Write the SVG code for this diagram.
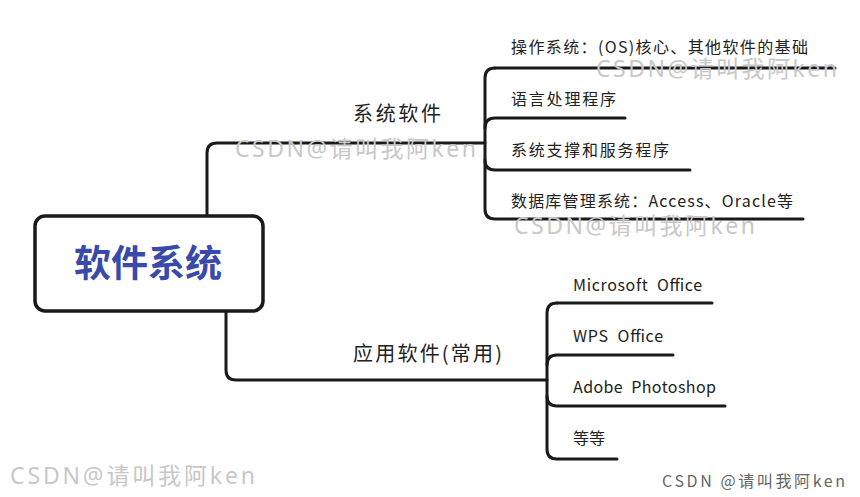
<svg xmlns="http://www.w3.org/2000/svg" width="860" height="497" viewBox="0 0 860 497">
<style>
.ln{fill:none;stroke:#1a1a1a;stroke-width:3;stroke-linecap:round;stroke-linejoin:round}
.t{font-family:"Noto Sans CJK SC","Noto Sans",sans-serif;fill:#222}
.c{font-size:16px}
.b{font-size:20px}
.wm{font-family:"Noto Sans","Noto Sans CJK SC",sans-serif;font-size:23px;fill:#c8c8c8}
</style>
<rect width="860" height="497" fill="#fff"/>
<g id="connectors">
<path class="ln" d="M207 216 V153 Q207 143 217 143 H485"/>
<path class="ln" d="M495 68 Q485 68 485 78 V209 Q485 219 495 219 H803"/>
<path class="ln" d="M495 68 H835"/>
<path class="ln" d="M485 128 Q485 118 495 118 H625"/>
<path class="ln" d="M485 160 Q485 170 495 170 H690"/>
<path class="ln" d="M226 311 V370 Q226 380 236 380 H547"/>
<path class="ln" d="M557 303 Q547 303 547 313 V449 Q547 459 557 459 H617"/>
<path class="ln" d="M557 303 H712"/>
<path class="ln" d="M547 365 Q547 355 557 355 H673"/>
<path class="ln" d="M547 396 Q547 406 557 406 H725"/>
</g>
<g id="root">
<rect x="35" y="216" width="228" height="95" rx="10" fill="#fff" stroke="#1a1a1a" stroke-width="3.5"/>
<text x="74" y="277" textLength="148" lengthAdjust="spacingAndGlyphs" font-family="Noto Sans CJK SC,sans-serif" font-weight="bold" font-size="37" fill="#3a4aa8">软件系统</text>
</g>
<g id="sys"><text class="t b" x="353" y="121" textLength="88">系统软件</text></g>
<g id="app"><text class="t b" x="353" y="361" textLength="149">应用软件(常用)</text></g>
<g id="os"><text class="t c" x="511" y="53" textLength="297">操作系统：(OS)核心、其他软件的基础</text></g>
<g id="lang"><text class="t c" x="511" y="105" textLength="105">语言处理程序</text></g>
<g id="support"><text class="t c" x="511" y="156" textLength="158">系统支撑和服务程序</text></g>
<g id="db"><text class="t c" x="511" y="207" textLength="282">数据库管理系统：Access、Oracle等</text></g>
<g id="ms"><text class="t c" x="573" y="291" textLength="129" xml:space="preserve">Microsoft  Office</text></g>
<g id="wps"><text class="t c" x="573" y="342" textLength="90" xml:space="preserve">WPS  Office</text></g>
<g id="ps"><text class="t c" x="573" y="393" textLength="143" xml:space="preserve">Adobe  Photoshop</text></g>
<g id="etc"><text class="t c" x="573" y="444">等等</text></g>
<text class="wm" x="596" y="77" textLength="241">CSDN@请叫我阿ken</text>
<text class="wm" x="235" y="157" textLength="241">CSDN@请叫我阿ken</text>
<text class="wm" x="514" y="234" textLength="241">CSDN@请叫我阿ken</text>
<text class="wm" x="10" y="484" textLength="245">CSDN@请叫我阿ken</text>
<text x="662" y="487" textLength="183" font-family="Noto Sans CJK SC,sans-serif" font-size="16" fill="#666">CSDN @请叫我阿ken</text>
</svg>
